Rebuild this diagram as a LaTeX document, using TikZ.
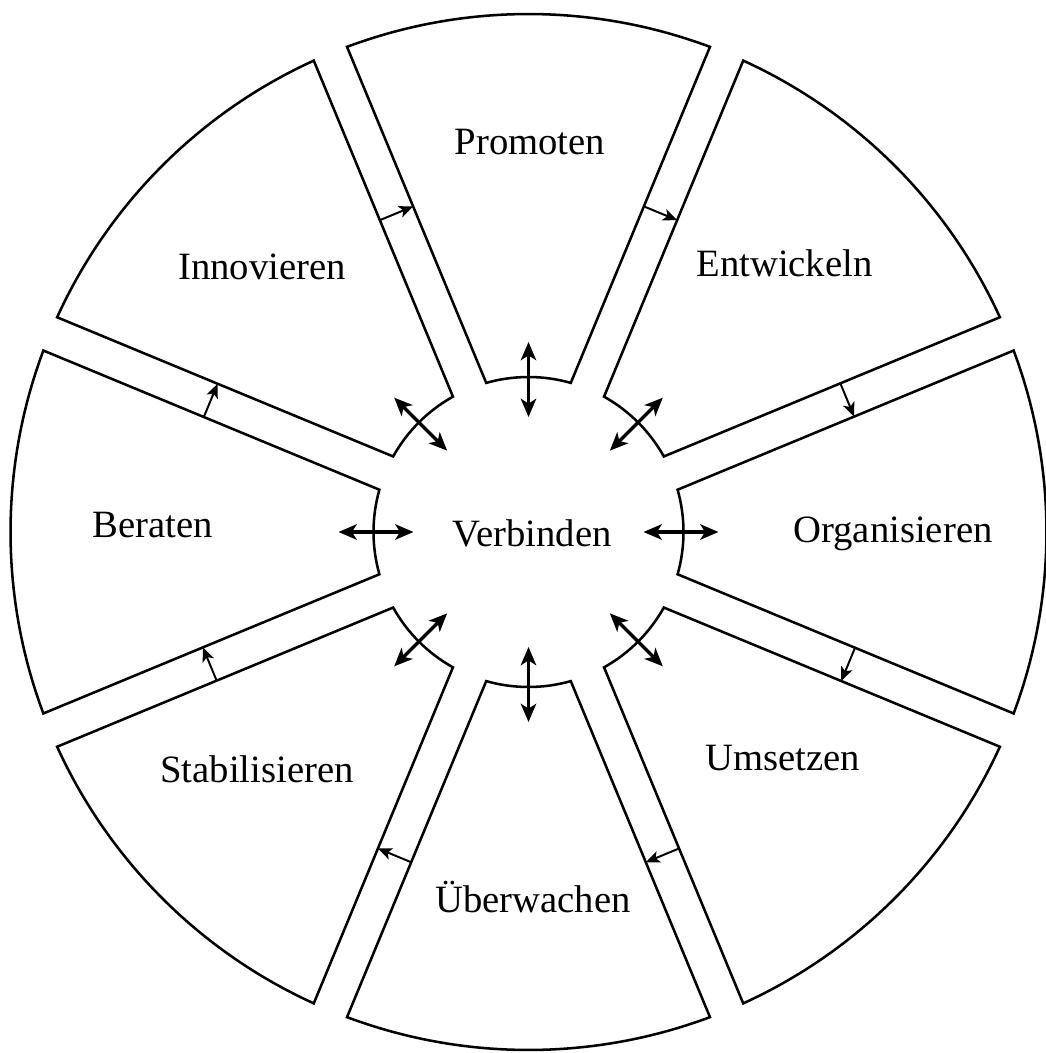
\documentclass[tikz,border=0pt]{standalone}
\usepackage{fontspec}
\setmainfont{Liberation Serif}
\usetikzlibrary{arrows.meta,calc}
\begin{document}
\begin{tikzpicture}[x=0.025cm,y=0.025cm,
  sector/.style={draw=black, line width=1.8pt, line join=miter},
  lbl/.style={anchor=base, inner sep=0pt, font=\fontsize{27.5}{33}\selectfont},
  flow/.style={line width=1.4pt, -{Stealth[length=10pt,width=8.5pt,inset=2.5pt]}},
  link/.style={line width=2.3pt, {Stealth[length=13pt,width=11pt,inset=3.5pt]}-{Stealth[length=13pt,width=11pt,inset=3.5pt]}}]
\useasboundingbox (-528.5,-521) rectangle (517.5,532);
\def\Ro{518}\def\ri{155}\def\gp{18}
\pgfmathsetmacro\ain{asin(\gp/\ri)}
\pgfmathsetmacro\aout{asin(\gp/\Ro)}
% sectors
\foreach \p in {90,45,0,-45,-90,-135,-180,-225}{
  \pgfmathsetmacro\aA{\p+22.5-\ain}
  \pgfmathsetmacro\aB{\p+22.5-\aout}
  \pgfmathsetmacro\aC{\p-22.5+\aout}
  \pgfmathsetmacro\aD{\p-22.5+\ain}
  \draw[sector] (\aA:\ri) -- (\aB:\Ro) arc[start angle=\aB, end angle=\aC, radius=\Ro]
    -- (\aD:\ri) arc[start angle=\aD, end angle=\aA, radius=\ri] -- cycle;
}
% labels
\node[lbl] (verb) at (3.5,-14) {Verbinden};
\node[lbl] (prom) at (1.5,377) {Promoten};
\node[lbl] (entw) at (256,255) {Entwickeln};
\node[lbl] (orga) at (364.5,-10) {Organisieren};
\node[lbl] (umse) at (254,-238) {Umsetzen};
\node[lbl] (uebe) at (4.5,-380) {Überwachen};
\node[lbl] (stab) at (-271.5,-250) {Stabilisieren};
\node[lbl] (bera) at (-376,-5) {Beraten};
\node[lbl] (inno) at (-266.5,252) {Innovieren};
% flow arrows between neighbouring sectors (clockwise)
\foreach \b/\rr [count=\i] in {112.5/345,67.5/345,22.5/345,-22.5/346,-67.5/350,-112.5/350,-157.5/345,157.5/344}{
  \coordinate (fs\i) at ($(\b:\rr)+(\b+90:\gp)$);
  \coordinate (fe\i) at ($(\b:\rr)+(\b-90:\gp)$);
  \draw[flow] (fs\i) -- (fe\i);
}
% double arrows between centre and sectors
\foreach \p [count=\i] in {90,45,0,-45,-90,-135,180,135}{
  \coordinate (li\i) at (\p:115);
  \coordinate (lo\i) at (\p:190);
  \draw[link] (li\i) -- (lo\i);
}
\end{tikzpicture}
\end{document}
